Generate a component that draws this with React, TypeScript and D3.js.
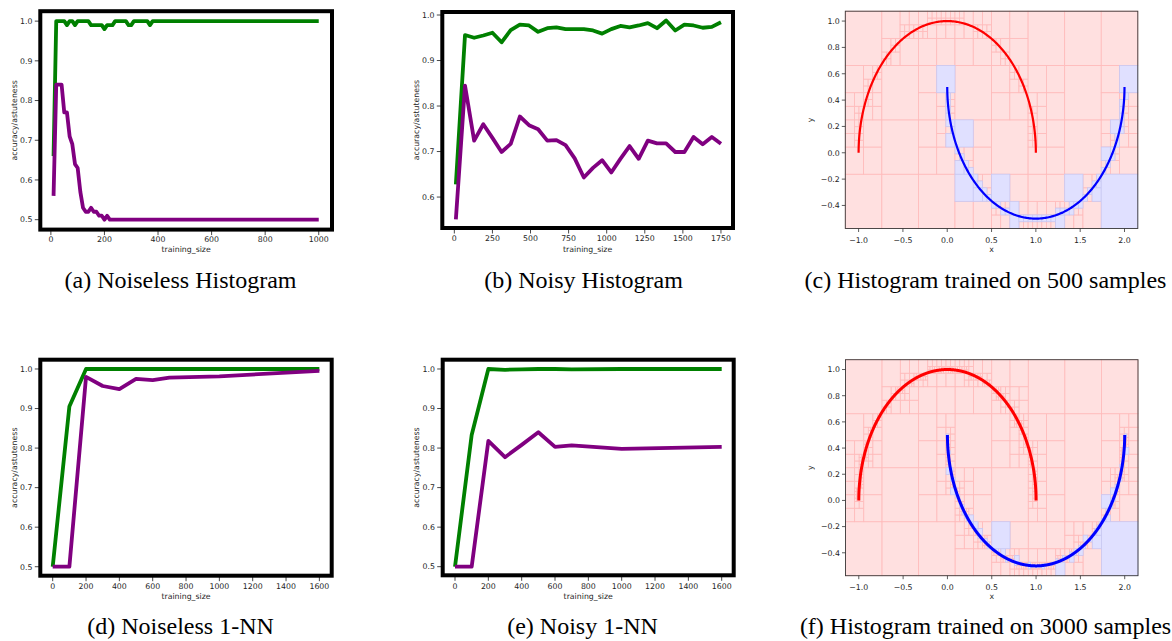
import React, { useMemo } from "react";
import * as d3 from "d3";

// ---------------- (a) Noiseless Histogram ----------------
const sizesA: number[] = [
  10, 20, 30, 40, 50, 60, 70, 80, 90, 100,
  110, 120, 130, 140, 150, 160, 170, 180, 190, 200,
  210, 220, 230, 240, 250, 260, 270, 280, 290, 300,
  310, 320, 330, 340, 350, 360, 370, 380, 390, 400,
  410, 420, 430, 440, 450, 460, 470, 480, 490, 500,
  510, 520, 530, 540, 550, 560, 570, 580, 590, 600,
  610, 620, 630, 640, 650, 660, 670, 680, 690, 700,
  710, 720, 730, 740, 750, 760, 770, 780, 790, 800,
  810, 820, 830, 840, 850, 860, 870, 880, 890, 900,
  910, 920, 930, 940, 950, 960, 970, 980, 990, 1000,
];
const accuracyA: number[] = [
  0.66, 1, 1, 1, 1, 0.99, 1, 1, 0.99, 1,
  1, 1, 1, 1, 0.99, 0.99, 0.99, 0.99, 0.99, 0.98,
  0.99, 0.99, 0.99, 1, 1, 1, 1, 1, 0.99, 0.99,
  1, 1, 1, 1, 1, 1, 0.99, 1, 1, 1,
  1, 1, 1, 1, 1, 1, 1, 1, 1, 1,
  1, 1, 1, 1, 1, 1, 1, 1, 1, 1,
  1, 1, 1, 1, 1, 1, 1, 1, 1, 1,
  1, 1, 1, 1, 1, 1, 1, 1, 1, 1,
  1, 1, 1, 1, 1, 1, 1, 1, 1, 1,
  1, 1, 1, 1, 1, 1, 1, 1, 1, 1,
];
const astutenessA: number[] = [
  0.56, 0.84, 0.84, 0.84, 0.77, 0.77, 0.71, 0.69, 0.64, 0.63,
  0.57, 0.53, 0.52, 0.52, 0.53, 0.52, 0.52, 0.51, 0.51, 0.5,
  0.51, 0.5, 0.5, 0.5, 0.5, 0.5, 0.5, 0.5, 0.5, 0.5,
  0.5, 0.5, 0.5, 0.5, 0.5, 0.5, 0.5, 0.5, 0.5, 0.5,
  0.5, 0.5, 0.5, 0.5, 0.5, 0.5, 0.5, 0.5, 0.5, 0.5,
  0.5, 0.5, 0.5, 0.5, 0.5, 0.5, 0.5, 0.5, 0.5, 0.5,
  0.5, 0.5, 0.5, 0.5, 0.5, 0.5, 0.5, 0.5, 0.5, 0.5,
  0.5, 0.5, 0.5, 0.5, 0.5, 0.5, 0.5, 0.5, 0.5, 0.5,
  0.5, 0.5, 0.5, 0.5, 0.5, 0.5, 0.5, 0.5, 0.5, 0.5,
  0.5, 0.5, 0.5, 0.5, 0.5, 0.5, 0.5, 0.5, 0.5, 0.5,
];

// ---------------- (b) Noisy Histogram ----------------
const sizesB: number[] = [
  10, 70, 130, 190, 250, 310, 370, 430, 490, 550,
  610, 670, 730, 790, 850, 910, 970, 1030, 1090, 1150,
  1210, 1270, 1330, 1390, 1450, 1510, 1570, 1630, 1690, 1750,
];
const accuracyB: number[] = [
  0.628, 0.956, 0.95, 0.955, 0.961, 0.94, 0.967, 0.979, 0.977, 0.963,
  0.971, 0.973, 0.969, 0.969, 0.969, 0.966, 0.959, 0.969, 0.976, 0.973,
  0.977, 0.982, 0.971, 0.988, 0.966, 0.979, 0.977, 0.972, 0.974, 0.984,
];
const astutenessB: number[] = [
  0.551, 0.845, 0.724, 0.76, 0.73, 0.699, 0.717, 0.777, 0.758, 0.749,
  0.724, 0.725, 0.714, 0.685, 0.643, 0.664, 0.681, 0.654, 0.684, 0.712,
  0.684, 0.724, 0.718, 0.718, 0.699, 0.699, 0.732, 0.716, 0.732, 0.717,
];

// ---------------- (d) Noiseless 1-NN ----------------
const sizesD: number[] = [0, 100, 200, 300, 400, 500, 600, 700, 1000, 1600];
const accuracyD: number[] = [0.5, 0.905, 1, 1, 1, 1, 1, 1, 1, 1];
const astutenessD: number[] = [0.5, 0.5, 0.98, 0.957, 0.949, 0.975, 0.972, 0.978, 0.9815, 0.995];

// ---------------- (e) Noisy 1-NN ----------------
const sizesE: number[] = [0, 100, 200, 300, 400, 500, 600, 700, 1000, 1600];
const accuracyE: number[] = [0.5, 0.833, 1, 0.998, 0.999, 1, 1, 0.999, 1, 1];
const astutenessE: number[] = [0.5, 0.5, 0.818, 0.777, 0.808, 0.84, 0.803, 0.807, 0.798, 0.803];

// ---------------- tick labels ----------------
const accTicks: number[] = [0.5, 0.6, 0.7, 0.8, 0.9, 1.0];
const accTicksB: number[] = [0.6, 0.7, 0.8, 0.9, 1.0];
const sizeTicksA: number[] = [0, 200, 400, 600, 800, 1000];
const sizeTicksB: number[] = [0, 250, 500, 750, 1000, 1250, 1500, 1750];
const sizeTicksDE: number[] = [0, 200, 400, 600, 800, 1000, 1200, 1400, 1600];

const histXTicks: number[] = [-1.0, -0.5, 0.0, 0.5, 1.0, 1.5, 2.0];
const histXTickLabels: string[] = ["−1.0", "−0.5", "0.0", "0.5", "1.0", "1.5", "2.0"];
const histYTicks: number[] = [-0.4, -0.2, 0.0, 0.2, 0.4, 0.6, 0.8, 1.0];
const histYTickLabels: string[] = ["−0.4", "−0.2", "0.0", "0.2", "0.4", "0.6", "0.8", "1.0"];

// two-moons training set sizes (per moon) for panels (c) and (f)
const moonSamplesC = 250;
const moonSamplesF = 1500;

const captions: string[] = [
  "(a) Noiseless Histogram",
  "(b) Noisy Histogram",
  "(c) Histogram trained on 500 samples",
  "(d) Noiseless 1-NN",
  "(e) Noisy 1-NN",
  "(f) Histogram trained on 3000 samples",
];

const HIST_X_DOMAIN: [number, number] = [-1.15, 2.15];
const HIST_Y_DOMAIN: [number, number] = [-0.575, 1.075];
const ROOT_COLS = 8;
const ROOT_ROWS = 4;

const SANS = "DejaVu Sans";
const SERIF = "Liberation Serif, Times New Roman, serif";
const TICK_FS = 7.8;
const TXT = "#262626";

type LineProps = {
  left: number; right: number; top: number; bottom: number;
  xDomain: [number, number]; yDomain: [number, number];
  xTicks: number[]; yTicks: number[];
  xs: number[]; green: number[]; purple: number[];
  yLabelX: number; xLabelY: number; tickLabelY: number;
};

function LinePanel(p: LineProps) {
  const x = d3.scaleLinear().domain(p.xDomain).range([p.left, p.right]);
  const y = d3.scaleLinear().domain(p.yDomain).range([p.bottom, p.top]);
  const line = d3.line<[number, number]>().x((d) => x(d[0])).y((d) => y(d[1]));
  const g: [number, number][] = p.xs.map((v, i) => [v, p.green[i]]);
  const pu: [number, number][] = p.xs.map((v, i) => [v, p.purple[i]]);
  const midY = (p.top + p.bottom) / 2;
  const midX = (p.left + p.right) / 2;
  return (
    <g>
      {p.xTicks.map((t) => (
        <g key={"x" + t}>
          <line x1={x(t)} x2={x(t)} y1={p.bottom} y2={p.bottom + 5.5} stroke="#333" strokeWidth={0.9} />
          <text x={x(t)} y={p.tickLabelY} textAnchor="middle" fontSize={TICK_FS} fontFamily={SANS} fill={TXT}>
            {t}
          </text>
        </g>
      ))}
      {p.yTicks.map((t) => (
        <g key={"y" + t}>
          <line x1={p.left - 5.5} x2={p.left} y1={y(t)} y2={y(t)} stroke="#333" strokeWidth={0.9} />
          <text x={p.left - 7.8} y={y(t) + 2.8} textAnchor="end" fontSize={TICK_FS} fontFamily={SANS} fill={TXT}>
            {d3.format(".1f")(t)}
          </text>
        </g>
      ))}
      <path d={line(g) || ""} fill="none" stroke="#008000" strokeWidth={3.8} strokeLinejoin="round" />
      <path d={line(pu) || ""} fill="none" stroke="#800080" strokeWidth={3.8} strokeLinejoin="round" />
      <rect x={p.left} y={p.top} width={p.right - p.left} height={p.bottom - p.top} fill="none" stroke="#000" strokeWidth={4} />
      <text x={midX} y={p.xLabelY} textAnchor="middle" fontSize={TICK_FS} fontFamily={SANS} fill={TXT}>
        training_size
      </text>
      <text
        transform={`translate(${p.yLabelX},${midY}) rotate(-90)`}
        textAnchor="middle"
        fontSize={TICK_FS}
        fontFamily={SANS}
        fill={TXT}
      >
        accuracy/astuteness
      </text>
    </g>
  );
}

type Pt = { x: number; y: number; c: 0 | 1 };
type Cell = { x0: number; y0: number; x1: number; y1: number; blue: boolean };

function moons(n: number): { red: Pt[]; blue: Pt[] } {
  const red: Pt[] = [];
  const blue: Pt[] = [];
  for (let i = 0; i < n; i++) {
    const t = (Math.PI * i) / (n - 1);
    red.push({ x: Math.cos(t), y: Math.sin(t), c: 0 });
    blue.push({ x: 1 - Math.cos(t), y: 0.5 - Math.sin(t), c: 1 });
  }
  return { red, blue };
}

function partition(pts: Pt[], maxPts: number, maxDepth: number): Cell[] {
  const out: Cell[] = [];
  const rec = (x0: number, y0: number, x1: number, y1: number, ps: Pt[], depth: number) => {
    if (ps.length > maxPts && depth < maxDepth) {
      const xm = (x0 + x1) / 2;
      const ym = (y0 + y1) / 2;
      const quads: [number, number, number, number][] = [
        [x0, y0, xm, ym], [xm, y0, x1, ym], [x0, ym, xm, y1], [xm, ym, x1, y1],
      ];
      for (const q of quads) {
        rec(q[0], q[1], q[2], q[3], ps.filter((p) => p.x >= q[0] && p.x < q[2] && p.y >= q[1] && p.y < q[3]), depth + 1);
      }
    } else {
      const nb = ps.filter((p) => p.c === 1).length;
      out.push({ x0, y0, x1, y1, blue: nb > ps.length - nb });
    }
  };
  const [X0, X1] = HIST_X_DOMAIN;
  const [Y0, Y1] = HIST_Y_DOMAIN;
  const cw = (X1 - X0) / ROOT_COLS;
  const ch = (Y1 - Y0) / ROOT_ROWS;
  for (let i = 0; i < ROOT_COLS; i++) {
    for (let j = 0; j < ROOT_ROWS; j++) {
      const a = X0 + i * cw, b = Y0 + j * ch, c = a + cw, d = b + ch;
      rec(a, b, c, d, pts.filter((p) => p.x >= a && p.x < c && p.y >= b && p.y < d), 0);
    }
  }
  return out;
}

type HistProps = {
  left: number; right: number; top: number; bottom: number;
  n: number; maxPts: number; maxDepth: number; curveW: number;
};

function HistPanel(p: HistProps) {
  const x = d3.scaleLinear().domain(HIST_X_DOMAIN).range([p.left, p.right]);
  const y = d3.scaleLinear().domain(HIST_Y_DOMAIN).range([p.bottom, p.top]);
  const { cells, red, blue } = useMemo(() => {
    const m = moons(p.n);
    return { cells: partition([...m.red, ...m.blue], p.maxPts, p.maxDepth), red: m.red, blue: m.blue };
  }, [p.n, p.maxPts, p.maxDepth]);
  const line = d3.line<Pt>().x((d) => x(d.x)).y((d) => y(d.y));
  const midY = (p.top + p.bottom) / 2;
  const midX = (p.left + p.right) / 2;
  const redCells = cells.filter((c) => !c.blue);
  const blueCells = cells.filter((c) => c.blue);
  const rectOf = (c: Cell, i: number, fill: string, stroke: string) => (
    <rect
      key={i}
      x={x(c.x0)}
      y={y(c.y1)}
      width={x(c.x1) - x(c.x0)}
      height={y(c.y0) - y(c.y1)}
      fill={fill}
      stroke={stroke}
      strokeWidth={0.8}
    />
  );
  return (
    <g>
      <g>{redCells.map((c, i) => rectOf(c, i, "#ffe0e0", "#ffbaba"))}</g>
      <g>{blueCells.map((c, i) => rectOf(c, i, "#e0e0ff", "#c8c8f2"))}</g>
      <path d={line(red) || ""} fill="none" stroke="#ff0000" strokeWidth={p.curveW} />
      <path d={line(blue) || ""} fill="none" stroke="#0000ff" strokeWidth={p.curveW} />
      <rect x={p.left} y={p.top} width={p.right - p.left} height={p.bottom - p.top} fill="none" stroke="#3a3a3a" strokeWidth={0.9} />
      {histXTicks.map((t, i) => (
        <g key={"x" + i}>
          <line x1={x(t)} x2={x(t)} y1={p.bottom} y2={p.bottom + 3.5} stroke="#333" strokeWidth={0.8} />
          <text x={x(t)} y={p.bottom + 14} textAnchor="middle" fontSize={TICK_FS} fontFamily={SANS} fill={TXT}>
            {histXTickLabels[i]}
          </text>
        </g>
      ))}
      {histYTicks.map((t, i) => (
        <g key={"y" + i}>
          <line x1={p.left - 3.5} x2={p.left} y1={y(t)} y2={y(t)} stroke="#333" strokeWidth={0.8} />
          <text x={p.left - 5.5} y={y(t) + 2.8} textAnchor="end" fontSize={TICK_FS} fontFamily={SANS} fill={TXT}>
            {histYTickLabels[i]}
          </text>
        </g>
      ))}
      <text x={midX} y={p.bottom + 23} textAnchor="middle" fontSize={TICK_FS} fontFamily={SANS} fill={TXT}>
        x
      </text>
      <text
        transform={`translate(${p.left - 32.5},${midY}) rotate(-90)`}
        textAnchor="middle"
        fontSize={TICK_FS}
        fontFamily={SANS}
        fill={TXT}
      >
        y
      </text>
    </g>
  );
}

export default function App() {
  const capX = [180.5, 583.5, 985.5, 180.5, 582.5, 985.5];
  const capY = [287.5, 287.5, 287.5, 633.5, 633.5, 633.5];
  return (
    <svg
      width={1172}
      height={641}
      viewBox="0 0 1172 641"
      style={{ position: "absolute", left: 0, top: 0, background: "#fff", display: "block" }}
    >
      <rect x={0} y={0} width={1172} height={641} fill="#fff" />
      <LinePanel
        left={40.3} right={332} top={11.2} bottom={229.6}
        xDomain={[-39.5, 1049.5]} yDomain={[0.475, 1.025]}
        xTicks={sizeTicksA} yTicks={accTicks}
        xs={sizesA} green={accuracyA} purple={astutenessA}
        yLabelX={16.6} xLabelY={251.7} tickLabelY={241.7}
      />
      <LinePanel
        left={442.3} right={733} top={12} bottom={228}
        xDomain={[-79, 1829]} yDomain={[0.532, 1.0066]}
        xTicks={sizeTicksB} yTicks={accTicksB}
        xs={sizesB} green={accuracyB} purple={astutenessB}
        yLabelX={418.8} xLabelY={251.5} tickLabelY={240.7}
      />
      <HistPanel left={845.3} right={1137.8} top={11.2} bottom={228.5} n={moonSamplesC} maxPts={5} maxDepth={4} curveW={2.2} />
      <LinePanel
        left={40.3} right={331.7} top={359.7} bottom={575.7}
        xDomain={[-74.4, 1674]} yDomain={[0.4773, 1.0235]}
        xTicks={sizeTicksDE} yTicks={accTicks}
        xs={sizesD} green={accuracyD} purple={astutenessD}
        yLabelX={16.6} xLabelY={599} tickLabelY={589.3}
      />
      <LinePanel
        left={442.7} right={733.7} top={359.7} bottom={575.3}
        xDomain={[-73.8, 1672]} yDomain={[0.4782, 1.0235]}
        xTicks={sizeTicksDE} yTicks={accTicks}
        xs={sizesE} green={accuracyE} purple={astutenessE}
        yLabelX={418.8} xLabelY={599} tickLabelY={589.3}
      />
      <HistPanel left={845.5} right={1138} top={359.7} bottom={575.7} n={moonSamplesF} maxPts={10} maxDepth={6} curveW={3} />
      {captions.map((c, i) => (
        <text key={c} x={capX[i]} y={capY[i]} textAnchor="middle" fontSize={24} fontFamily={SERIF} fill="#000">
          {c}
        </text>
      ))}
    </svg>
  );
}
